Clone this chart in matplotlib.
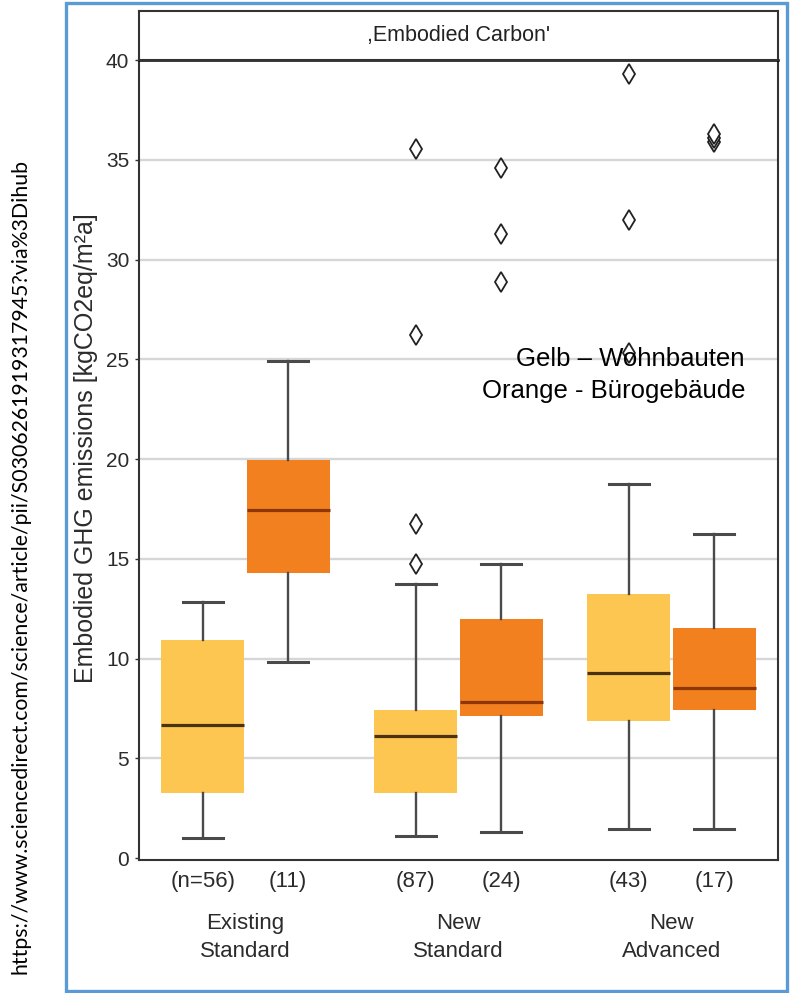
import matplotlib.pyplot as plt
from matplotlib.patches import Rectangle

# data (kgCO2eq/m²a)
groups = ["Existing\nStandard", "New\nStandard", "New\nAdvanced"]
counts = ["(n=56)", "(11)", "(87)", "(24)", "(43)", "(17)"]
kinds = ["res", "off", "res", "off", "res", "off"]
whis_lo = [1.0, 9.8, 1.1, 1.3, 1.45, 1.45]
q1 = [3.25, 14.3, 3.25, 7.1, 6.85, 7.4]
median = [6.65, 17.45, 6.1, 7.8, 9.25, 8.5]
q3 = [10.95, 19.95, 7.4, 12.0, 13.25, 11.55]
whis_hi = [12.85, 24.9, 13.75, 14.75, 18.75, 16.25]
fliers = [
    [],
    [],
    [14.75, 16.75, 26.2, 35.55],
    [28.85, 31.3, 34.6],
    [25.3, 32.0, 39.3],
    [35.9, 36.1, 36.3],
]
yticks = [0, 5, 10, 15, 20, 25, 30, 35, 40]

face = {"res": "#fcc650", "off": "#f3801f"}
med_col = {"res": "#4a3210", "off": "#8c3705"}
W, H = 798, 993
FONT = ["Liberation Sans", "DejaVu Sans"]

fig = plt.figure(figsize=(W / 100, H / 100), dpi=100)
ax = fig.add_axes([139 / W, (H - 860) / H, 639 / W, 800 / H])
strip = fig.add_axes([139 / W, (H - 60) / H, 639 / W, 49 / H])

positions = [g + d for g in range(len(groups)) for d in (-0.2, 0.2)]
stats = [
    dict(med=m, q1=a, q3=b, whislo=lo, whishi=hi, fliers=f)
    for m, a, b, lo, hi, f in zip(median, q1, q3, whis_lo, whis_hi, fliers)
]
bp = ax.bxp(
    stats, positions=positions, widths=0.39, capwidths=0.19, patch_artist=True,
    boxprops=dict(edgecolor="none"),
    whiskerprops=dict(color="#4a4a4a", lw=1.7),
    capprops=dict(color="#4a4a4a", lw=2.2),
    medianprops=dict(lw=2.3),
    flierprops=dict(marker="d", markerfacecolor="white", markeredgecolor="#222222",
                    markersize=10, markeredgewidth=1.3),
    zorder=3,
)
for box, med, k in zip(bp["boxes"], bp["medians"], kinds):
    box.set_facecolor(face[k])
    med.set_color(med_col[k])

for t in yticks[1:-1]:
    ax.axhline(t, color="#d6d6d6", lw=1.7, zorder=1)

ax.set_xlim(-0.5, 2.5)
ax.set_ylim(-0.1, 40)
ax.set_yticks(yticks)
ax.set_yticklabels([str(t) for t in yticks], family=FONT, fontsize=15, color="#2b2b2b")
ax.tick_params(axis="y", length=3, width=1, color="#333333", pad=4)

ax.set_xticks(range(len(groups)))
ax.set_xticklabels(groups, family=FONT, fontsize=16, color="#2b2b2b", linespacing=1.45)
ax.set_xticks(positions, minor=True)
ax.set_xticklabels(counts, minor=True, family=FONT, fontsize=16, color="#2b2b2b")
ax.tick_params(axis="x", which="both", length=0)
ax.tick_params(axis="x", which="minor", pad=8)
ax.tick_params(axis="x", which="major", pad=38)

ax.set_ylabel("Embodied GHG emissions [kgCO2eq/m²a]", family=FONT, fontsize=18,
              color="#2b2b2b")
ax.yaxis.set_label_coords(-0.064, 0.515)

for name, sp in ax.spines.items():
    sp.set_color("#333333")
    sp.set_linewidth(1.5)
ax.spines["top"].set_color("black")
ax.spines["top"].set_linewidth(1.8)

strip.set_xticks([])
strip.set_yticks([])
for sp in strip.spines.values():
    sp.set_color("#333333")
    sp.set_linewidth(1.5)
strip.text(0.5, 0.5, ",Embodied Carbon'", transform=strip.transAxes, ha="center",
           va="center", family=FONT, fontsize=15.5, color="#222222")

fig.text(745 / W, 1 - 366 / H, "Gelb – Wohnbauten", ha="right", va="baseline",
         family=FONT, fontsize=18.5, color="black")
fig.text(745 / W, 1 - 398 / H, "Orange - Bürogebäude", ha="right", va="baseline",
         family=FONT, fontsize=18.5, color="black")

fig.text(21 / W, 1 - 567 / H,
         "https://www.sciencedirect.com/science/article/pii/S0306261919317945?via%3Dihub",
         rotation=90, ha="center", va="center", family=["Lato", "DejaVu Sans"],
         fontsize=15.3, color="black")

fig.patches.append(Rectangle((66 / W, 2 / H), 721 / W, 988 / H, transform=fig.transFigure,
                             fill=False, edgecolor="#5b9bd5", lw=2.4))

fig.savefig("out.png", dpi=100)
